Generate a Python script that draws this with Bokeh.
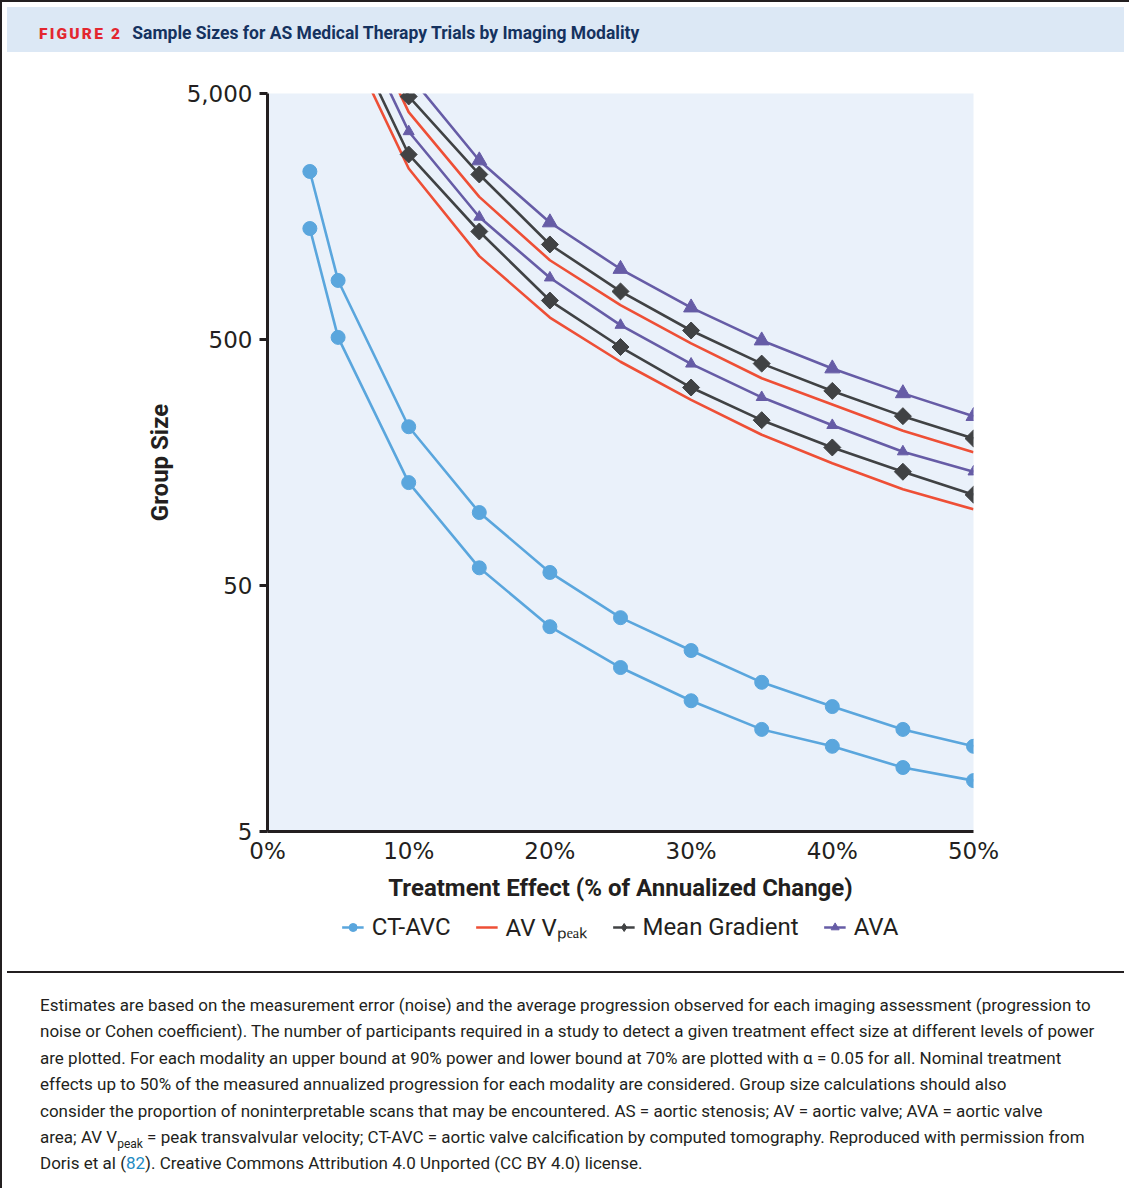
import numpy as np
from bokeh.plotting import figure
from bokeh.models import FixedTicker, Legend, LegendItem, Div, Range1d
from bokeh.layouts import column
from bokeh.embed import file_html
from bokeh.resources import INLINE

# ---------------- data ----------------
effect_ct = [3, 5, 10, 15, 20, 25, 30, 35, 40, 45, 50]
effect = [5, 10, 15, 20, 25, 30, 35, 40, 45, 50]

ct_avc_90 = [2410, 869, 221, 99, 56.5, 37, 27.2, 20.2, 16.1, 13, 11.1]
ct_avc_70 = [1413, 510, 131, 59, 34, 23.2, 17, 13, 11.1, 9.1, 8.05]
vpeak_90 = [16800, 4202, 1900, 1050, 690, 482, 348, 272, 213, 174]
vpeak_70 = [9900, 2478, 1091, 614, 406, 284, 205, 157, 123, 102]
mg_90 = [19400, 4862, 2343, 1217, 784, 544, 399, 309, 244, 198]
mg_70 = [11300, 2825, 1374, 720, 466, 319, 235, 182, 145, 117]
ava_90 = [23900, 5973, 2670, 1495, 967, 674, 495, 381, 302, 244]
ava_70 = [14000, 3504, 1574, 891, 572, 398, 291, 224, 175, 145]

x_ticks = [0, 10, 20, 30, 40, 50]
x_tick_labels = ["0%", "10%", "20%", "30%", "40%", "50%"]
y_ticks = [5, 50, 500, 5000]
y_tick_labels = ["5", "50", "500", "5,000"]
legend_labels = ["CT-AVC", "AV V\u209a\u2091\u2090\u2096", "Mean Gradient", "AVA"]

BLUE = "#5AA6DD"
RED = "#EE4F36"
GRAY = "#404244"
PURPLE = "#665CA6"
INK = "#231F20"
FONT = "Roboto"

W = 1117
LEFT = 265
FRAME_W = 706
FRAME_H = 738
TOP = 36
BOTTOM = 75

p = figure(width=W, height=TOP + FRAME_H + BOTTOM, y_axis_type="log",
           x_range=Range1d(0, 50), y_range=Range1d(5, 5000),
           output_backend="svg", toolbar_location=None,
           min_border_left=LEFT, min_border_right=W - LEFT - FRAME_W,
           min_border_top=TOP, min_border_bottom=BOTTOM)
p.background_fill_color = "#EAF1FA"
p.border_fill_color = "white"
p.outline_line_color = None
p.grid.visible = False

# axes
p.xaxis.ticker = FixedTicker(ticks=x_ticks)
p.xaxis.major_label_overrides = {t: l for t, l in zip(x_ticks, x_tick_labels)}
p.yaxis.ticker = FixedTicker(ticks=y_ticks)
p.yaxis.major_label_overrides = {t: l for t, l in zip(y_ticks, y_tick_labels)}
for ax in (p.xaxis, p.yaxis):
    ax.axis_line_color = INK
    ax.axis_line_width = 3
    ax.major_tick_line_color = INK
    ax.major_tick_line_width = 3
    ax.minor_tick_line_color = None
    ax.major_label_text_font = "DejaVu Sans"
    ax.major_label_text_font_size = "23px"
    ax.major_label_text_color = INK
    ax.axis_label_text_font = FONT
    ax.axis_label_text_font_style = "bold"
    ax.axis_label_text_color = INK
    ax.axis_label_text_font_size = "24px"
p.xaxis.major_tick_out = 0
p.xaxis.major_tick_in = 0
p.xaxis.major_label_standoff = 6
p.xaxis.axis_label = "Treatment Effect (% of Annualized Change)"
p.xaxis.axis_label_standoff = 7
p.yaxis.major_tick_out = 8
p.yaxis.major_tick_in = 0
p.yaxis.major_label_standoff = 7
p.yaxis.axis_label = "Group Size"
p.yaxis.axis_label_standoff = 10

# series
lw = 2.6
p.line(effect_ct, ct_avc_90, line_color=BLUE, line_width=lw, line_join="round")
p.line(effect_ct, ct_avc_70, line_color=BLUE, line_width=lw, line_join="round")
p.scatter(effect_ct, ct_avc_90, marker="circle", size=14, fill_color=BLUE, line_color=BLUE)
p.scatter(effect_ct, ct_avc_70, marker="circle", size=14, fill_color=BLUE, line_color=BLUE)

p.line(effect, vpeak_90, line_color=RED, line_width=lw, line_join="round")
p.line(effect, vpeak_70, line_color=RED, line_width=lw, line_join="round")

p.line(effect, ava_90, line_color=PURPLE, line_width=lw, line_join="round")
p.line(effect, ava_70, line_color=PURPLE, line_width=lw, line_join="round")
p.scatter(effect, ava_90, marker="triangle", size=15, fill_color=PURPLE, line_color=PURPLE)
p.scatter(effect, ava_70, marker="triangle", size=11, fill_color=PURPLE, line_color=PURPLE)

p.line(effect, mg_90, line_color=GRAY, line_width=lw, line_join="round")
p.line(effect, mg_70, line_color=GRAY, line_width=lw, line_join="round")
p.scatter(effect, mg_90, marker="square", angle=np.pi / 4, size=12, fill_color=GRAY, line_color=GRAY)
p.scatter(effect, mg_70, marker="square", angle=np.pi / 4, size=12, fill_color=GRAY, line_color=GRAY)

# ---------------- legend strip (separate small figure below the chart) ----------------
# The swatch renderers reuse the series data; with this strip's 0..1 ranges they fall
# outside its frame, so only their legend swatches are seen.
LEG_H = 60
pl = figure(width=W, height=LEG_H, x_range=Range1d(0, 1), y_range=Range1d(0, 1),
            output_backend="svg", toolbar_location=None,
            min_border_left=LEFT, min_border_right=W - LEFT - FRAME_W,
            min_border_top=0, min_border_bottom=0)
pl.axis.visible = False
pl.grid.visible = False
pl.outline_line_color = None
pl.background_fill_color = "white"
pl.border_fill_color = "white"

sw_c = [pl.line(effect_ct, ct_avc_90, line_color=BLUE, line_width=2.6),
        pl.scatter(effect_ct, ct_avc_90, marker="circle", size=8, fill_color=BLUE, line_color=BLUE)]
sw_v = [pl.line(effect, vpeak_90, line_color=RED, line_width=2.6)]
sw_m = [pl.line(effect, mg_90, line_color=GRAY, line_width=2.6),
        pl.scatter(effect, mg_90, marker="diamond", size=10, fill_color=GRAY, line_color=GRAY)]
sw_a = [pl.line(effect, ava_90, line_color=PURPLE, line_width=2.6),
        pl.scatter(effect, ava_90, marker="triangle", size=8, fill_color=PURPLE, line_color=PURPLE)]

legend = Legend(items=[LegendItem(label=lab, renderers=r)
                       for lab, r in zip(legend_labels, [sw_c, sw_v, sw_m, sw_a])],
                orientation="horizontal", location="top_center")
legend.label_text_font = FONT
legend.label_text_font_size = "24px"
legend.label_text_color = INK
legend.border_line_color = None
legend.background_fill_alpha = 0
legend.glyph_width = 22
legend.glyph_height = 20
legend.label_standoff = 8
legend.spacing = 25
legend.padding = 0
legend.margin = 4
pl.add_layout(legend)

header = Div(
    text=('<div style="padding:12px 0 0 32px;line-height:29px;white-space:nowrap;">'
          '<span style="font-family:Roboto;font-weight:900;color:#E3262F;font-size:15.5px;letter-spacing:2.2px;">FIGURE 2</span>'
          '<span style="font-family:Roboto;font-weight:700;color:#15325F;font-size:17.5px;margin-left:10px;">'
          'Sample Sizes for AS Medical Therapy Trials by Imaging Modality</span></div>'),
    width=W, height=45,
    styles={"background-color": "#DCE8F5"})

lines = [
    "Estimates are based on the measurement error (noise) and the average progression observed for each imaging assessment (progression to",
    "noise or Cohen coefficient). The number of participants required in a study to detect a given treatment effect size at different levels of power",
    "are plotted. For each modality an upper bound at 90% power and lower bound at 70% are plotted with \u03b1 = 0.05 for all. Nominal treatment",
    "effects up to 50% of the measured annualized progression for each modality are considered. Group size calculations should also",
    "consider the proportion of noninterpretable scans that may be encountered. AS = aortic stenosis; AV = aortic valve; AVA = aortic valve",
    "area; AV V<span style='font-size:12px;position:relative;top:5px;line-height:0'>peak</span> = peak transvalvular velocity; CT-AVC = aortic valve calcification by computed tomography. Reproduced with permission from",
    "Doris et al (<span style='color:#1E8BC3'>82</span>). Creative Commons Attribution 4.0 Unported (CC BY 4.0) license.",
]
caption = Div(
    text=('<div style="padding:19px 0 0 33px;font-family:Roboto;font-size:17px;line-height:26.4px;'
          'color:#231F20;white-space:nowrap;">' + "<br>".join(lines) + "</div>"),
    width=W, height=212,
    styles={"border-top": "2px solid #231F20"})

layout = column(header, p, pl, caption,
                styles={"border-left": "2px solid #231F20", "border-top": "2px solid #231F20"})

open("out.html", "w").write(file_html(layout, INLINE))
